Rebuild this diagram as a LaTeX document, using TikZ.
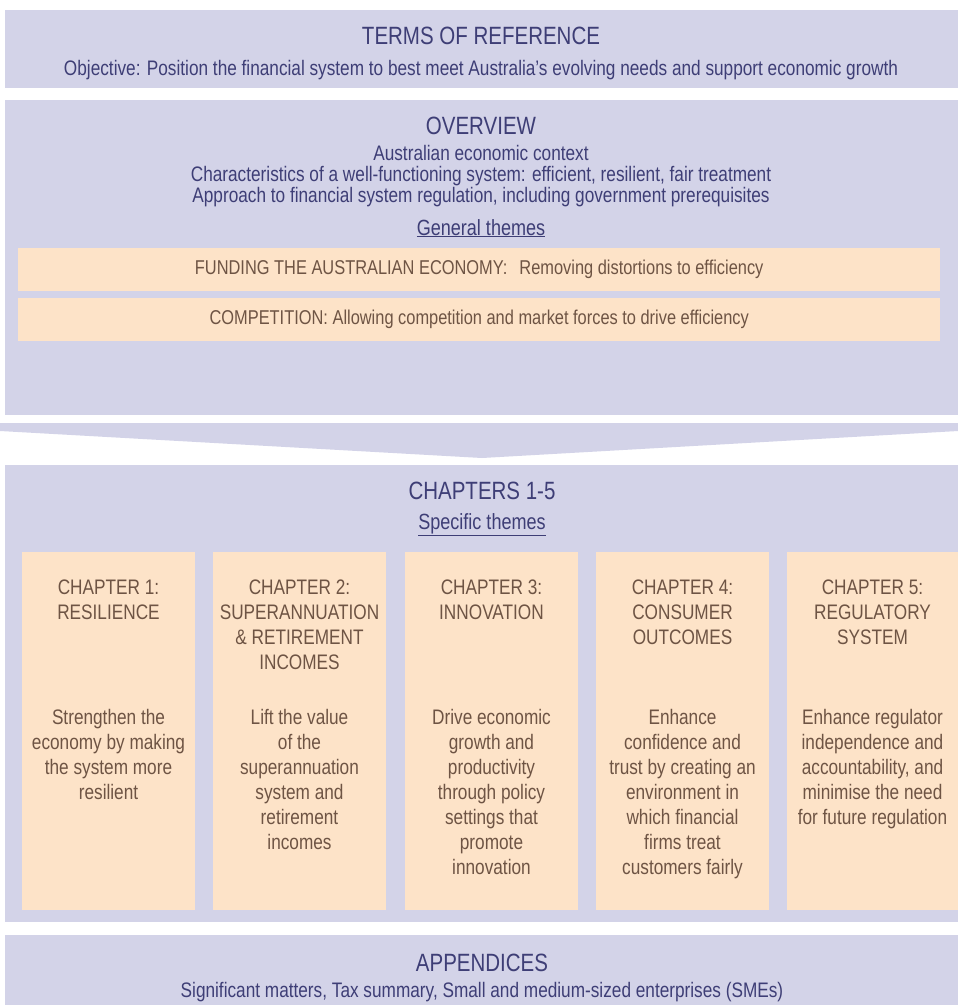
\documentclass[tikz,border=0pt]{standalone}
\usepackage{fontspec}
\setmainfont{Liberation Sans}[FakeStretch=0.82]
\usepackage{xcolor}
\usepackage{tikz}
\definecolor{lav}{HTML}{D3D3E8}
\definecolor{navy}{HTML}{3E3E76}
\definecolor{peach}{HTML}{FDE3C8}
\definecolor{chbrown}{HTML}{6E5444}
\newcommand{\fs}[2]{\fontsize{#1}{#2}\selectfont}

\begin{document}
\begin{tikzpicture}[x=1pt, y=-1pt,
    panel/.style={fill=lav, inner sep=0, outer sep=0, anchor=north west},
    theme/.style={fill=peach, inner sep=0, anchor=north west, text=chbrown, font=\fs{20}{22}},
    col/.style={fill=peach, inner sep=0, anchor=north west, minimum width=173, minimum height=358},
    title/.style={text=navy, font=\fs{25}{28}, anchor=base, inner sep=0},
    sub/.style={text=navy, font=\fs{21}{21}, anchor=base, inner sep=0, align=center},
    head/.style={text=chbrown, font=\fs{21}{25}, anchor=north, inner sep=0, align=center}]
    \useasboundingbox (0,0) rectangle (958,1005);

    % Terms of reference
    \node[panel, minimum width=953, minimum height=78] (tor) at (5,10) {};
    \node[title] (torhead) at (481,44) {TERMS OF REFERENCE};
    \node[sub] (torobj) at (481,75) {Objective: Position the financial system to best meet Australia's evolving needs and support economic growth};

    % Overview
    \node[panel, minimum width=953, minimum height=315] (ov) at (5,100) {};
    \node[title] (ovhead) at (481,134) {OVERVIEW};
    \node[sub] (ovtext) at (481,202) {Australian economic context\\Characteristics of a well-functioning system: efficient, resilient, fair treatment\\Approach to financial system regulation, including government prerequisites};
    \node[title, font=\fs{22}{25}] (general) at (481,235) {\underline{General themes}};

    % General themes
    \node[theme, minimum width=922, minimum height=43] (fund) at (18,248) {FUNDING THE AUSTRALIAN ECONOMY:\hspace{12pt}Removing distortions to efficiency};
    \node[theme, minimum width=922, minimum height=43] (comp) at (18,298) {COMPETITION: Allowing competition and market forces to drive efficiency};

    % Arrow down to the chapters
    \fill[lav] (0,423) -- (958,423) -- (958,431) -- (482,458) -- (0,431) -- cycle;

    % Chapters
    \node[panel, minimum width=953, minimum height=457] (ch) at (5,465) {};
    \node[title] (chhead) at (482,499) {CHAPTERS 1-5};
    \node[title, font=\fs{22}{25}] (specific) at (482,529) {\underline{Specific themes}};

    % Chapter columns
    \node[col] (c1) at (22,552) {};
    \node[col] (c2) at (213,552) {};
    \node[col] (c3) at (405,552) {};
    \node[col] (c4) at (596,552) {};
    \node[col, minimum width=171] (c5) at (787,552) {};

    % Column headings
    \node[head] (h1) at (108.5,580) {CHAPTER 1:\\RESILIENCE};
    \node[head] (h2) at (299.5,580) {CHAPTER 2:\\SUPERANNUATION\\\& RETIREMENT\\INCOMES};
    \node[head] (h3) at (491.5,580) {CHAPTER 3:\\INNOVATION};
    \node[head] (h4) at (682.5,580) {CHAPTER 4:\\CONSUMER\\OUTCOMES};
    \node[head] (h5) at (872.5,580) {CHAPTER 5:\\REGULATORY\\SYSTEM};

    % Column texts
    \node[head] (b1) at (108.5,709) {Strengthen the\\economy by making\\the system more\\resilient};
    \node[head] (b2) at (299.5,709) {Lift the value\\of the\\superannuation\\system and\\retirement\\incomes};
    \node[head] (b3) at (491.5,709) {Drive economic\\growth and\\productivity\\through policy\\settings that\\promote\\innovation};
    \node[head] (b4) at (682.5,709) {Enhance\\confidence and\\trust by creating an\\environment in\\which financial\\firms treat\\customers fairly};
    \node[head] (b5) at (872.5,709) {Enhance regulator\\independence and\\accountability, and\\minimise the need\\for future regulation};

    % Appendices
    \node[panel, minimum width=953, minimum height=70] (app) at (5,935) {};
    \node[title] (apphead) at (482,971) {APPENDICES};
    \node[sub] (apptext) at (482,997) {Significant matters, Tax summary, Small and medium-sized enterprises (SMEs)};
\end{tikzpicture}
\end{document}
